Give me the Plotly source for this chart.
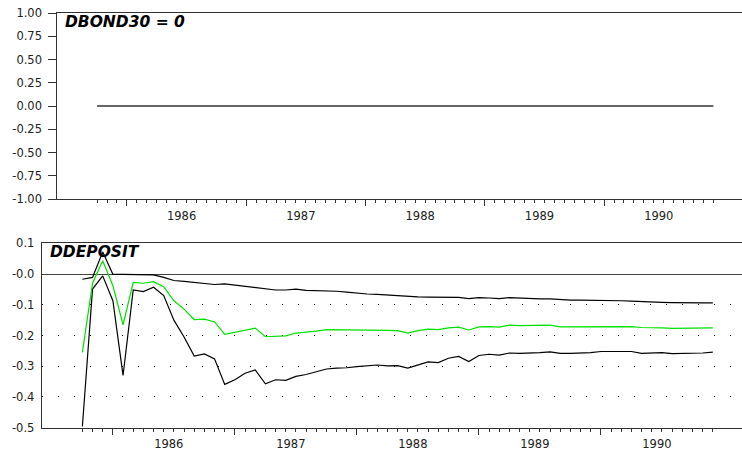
import numpy as np
import pandas as pd
import plotly.graph_objects as go

# ---------------- data ----------------
periods = pd.period_range("1985-10", "1990-12", freq="M")
years = [1986, 1987, 1988, 1989, 1990]
y_ticks_top = [-1.0, -0.75, -0.5, -0.25, 0.0, 0.25, 0.5, 0.75, 1.0]
y_ticks_bot = [-0.5, -0.4, -0.3, -0.2, -0.1, 0.0, 0.1]
y_text_bot = ["-0.5", "-0.4", "-0.3", "-0.2", "-0.1", "-0.0", "0.1"]

dbond30_resp = [0.0] * 63  # response identically zero

ddeposit_upper = [-0.017, -0.011, 0.072, -0.001, -0.001, -0.002, -0.003, -0.003, -0.011, -0.021,
                  -0.024, -0.027, -0.030, -0.034, -0.032, -0.036, -0.041,
                  -0.044, -0.048, -0.052, -0.052, -0.049, -0.053, -0.054, -0.053, -0.056, -0.059,
                  -0.063, -0.065, -0.066, -0.068, -0.070, -0.074, -0.074, -0.075, -0.076, -0.076,
                  -0.076, -0.080, -0.077, -0.078, -0.080,
                  -0.077, -0.079, -0.080, -0.081, -0.081, -0.084, -0.085, -0.085, -0.085, -0.085,
                  -0.087, -0.087, -0.088, -0.090, -0.091, -0.092, -0.093, -0.094, -0.094, -0.094, -0.094]

ddeposit_resp = [-0.255, -0.030, 0.043, -0.038, -0.165, -0.027, -0.030, -0.025, -0.041, -0.087,
                 -0.114, -0.148, -0.147, -0.156, -0.196, -0.190, -0.183,
                 -0.176, -0.204, -0.202, -0.201, -0.192, -0.190, -0.186, -0.181, -0.181, -0.182,
                 -0.182, -0.182, -0.181, -0.183, -0.184, -0.192, -0.184, -0.179, -0.181, -0.175,
                 -0.173, -0.182, -0.172, -0.171, -0.173,
                 -0.166, -0.168, -0.168, -0.168, -0.166, -0.172, -0.172, -0.172, -0.171, -0.170,
                 -0.171, -0.170, -0.171, -0.174, -0.174, -0.175, -0.177, -0.177, -0.176, -0.176, -0.175]

ddeposit_lower = [-0.496, -0.049, -0.006, -0.087, -0.330, -0.052, -0.057, -0.043, -0.070, -0.150,
                  -0.205, -0.267, -0.260, -0.276, -0.359, -0.344, -0.323,
                  -0.312, -0.357, -0.344, -0.346, -0.333, -0.327, -0.317, -0.309, -0.306, -0.305,
                  -0.301, -0.298, -0.296, -0.299, -0.298, -0.306, -0.295, -0.286, -0.288, -0.274,
                  -0.268, -0.285, -0.265, -0.261, -0.264,
                  -0.257, -0.258, -0.258, -0.256, -0.253, -0.258, -0.258, -0.257, -0.256, -0.252,
                  -0.252, -0.251, -0.252, -0.258, -0.257, -0.256, -0.259, -0.259, -0.258, -0.257, -0.254]

# ---------------- positions ----------------
x = list(range(len(periods)))
year_start = [i for i, p in enumerate(periods) if p.month == 1]
year_mid = [s + 5.5 for s in year_start]
xr = [-4, 64.87]

W, H = 742, 456
FONT = "DejaVu Sans"
AX = "#333333"
BLACK = "#000000"
GREEN = "#00e000"

fig = go.Figure()

# top panel
fig.add_trace(go.Scatter(x=x, y=dbond30_resp, mode="lines", line=dict(color="#333333", width=1.5),
                         xaxis="x", yaxis="y", hoverinfo="skip", showlegend=False))
# bottom panel
fig.add_trace(go.Scatter(x=x, y=ddeposit_upper, mode="lines", line=dict(color=BLACK, width=1.2),
                         xaxis="x2", yaxis="y2", showlegend=False))
fig.add_trace(go.Scatter(x=x, y=ddeposit_lower, mode="lines", line=dict(color=BLACK, width=1.2),
                         xaxis="x2", yaxis="y2", showlegend=False))
fig.add_trace(go.Scatter(x=x, y=ddeposit_resp, mode="lines", line=dict(color=GREEN, width=1.2),
                         xaxis="x2", yaxis="y2", showlegend=False))
# invisible traces to anchor label axes
fig.add_trace(go.Scatter(x=[x[0]], y=[0], mode="markers", marker=dict(opacity=0),
                         xaxis="x3", yaxis="y", hoverinfo="skip", showlegend=False))
fig.add_trace(go.Scatter(x=[x[0]], y=[0], mode="markers", marker=dict(opacity=0),
                         xaxis="x4", yaxis="y2", hoverinfo="skip", showlegend=False))

top_dom_x = [57.3 / W, 1.0]
bot_dom_x = [41.7 / W, 1.0]
top_dom_y = [(H - 199) / H, (H - 13) / H]
bot_dom_y = [(H - 427.7) / H, (H - 243.3) / H]

tickfont = dict(family=FONT, size=11.5, color="#222222")

def tick_axis(domain, anchor):
    return dict(domain=domain, anchor=anchor, range=xr, showgrid=False, zeroline=False,
                automargin=False,
                showline=True, linecolor=AX, linewidth=1, mirror=True,
                tickmode="array", tickvals=year_start, ticks="outside", ticklen=6,
                tickcolor=AX, tickwidth=1, showticklabels=False,
                minor=dict(tickmode="array", tickvals=x, ticks="outside", ticklen=3,
                           tickcolor=AX, tickwidth=1, showgrid=False))

def label_axis(over, anchor):
    return dict(overlaying=over, anchor=anchor, side="bottom", range=xr, showgrid=False,
                zeroline=False, automargin=False,
                showline=False, tickmode="array", tickvals=year_mid,
                ticktext=[str(y) for y in years], ticks="", tickfont=tickfont,
                ticklabelstandoff=8)

fig.update_layout(
    width=W, height=H, margin=dict(l=0, r=0, t=0, b=0, autoexpand=False),
    paper_bgcolor="white", plot_bgcolor="white",
    xaxis=tick_axis(top_dom_x, "y"),
    xaxis2=tick_axis(bot_dom_x, "y2"),
    xaxis3=label_axis("x", "y"),
    xaxis4=label_axis("x2", "y2"),
    yaxis=dict(domain=top_dom_y, anchor="x", range=[-1, 1], showgrid=False, zeroline=False,
               automargin=False,
               showline=True, linecolor=AX, linewidth=1,
               tickmode="array", tickvals=y_ticks_top,
               ticktext=[f"{v:.2f}" for v in y_ticks_top],
               ticks="outside", ticklen=8, tickcolor=AX, tickfont=tickfont,
               ticklabelstandoff=4),
    yaxis2=dict(domain=bot_dom_y, anchor="x2", range=[-0.5, 0.1], automargin=False,
                showgrid=True, gridcolor="#000000", gridwidth=1, griddash="1px,15px",
                zeroline=True, zerolinecolor="#444444", zerolinewidth=1.3,
                showline=True, linecolor=AX, linewidth=1,
                tickmode="array", tickvals=y_ticks_bot, ticktext=y_text_bot,
                ticks="", tickfont=tickfont, ticklabelstandoff=4),
    annotations=[
        dict(text="<b><i>DBOND30 = 0</i></b>", xref="paper", yref="paper",
             x=63 / W, y=(H - 11) / H, xanchor="left", yanchor="top", showarrow=False,
             font=dict(family=FONT, size=15.5, color="#000000")),
        dict(text="<b><i>DDEPOSIT</i></b>", xref="paper", yref="paper",
             x=48 / W, y=(H - 241) / H, xanchor="left", yanchor="top", showarrow=False,
             font=dict(family=FONT, size=15.5, color="#000000")),
    ],
)

fig.write_html("out.html")
